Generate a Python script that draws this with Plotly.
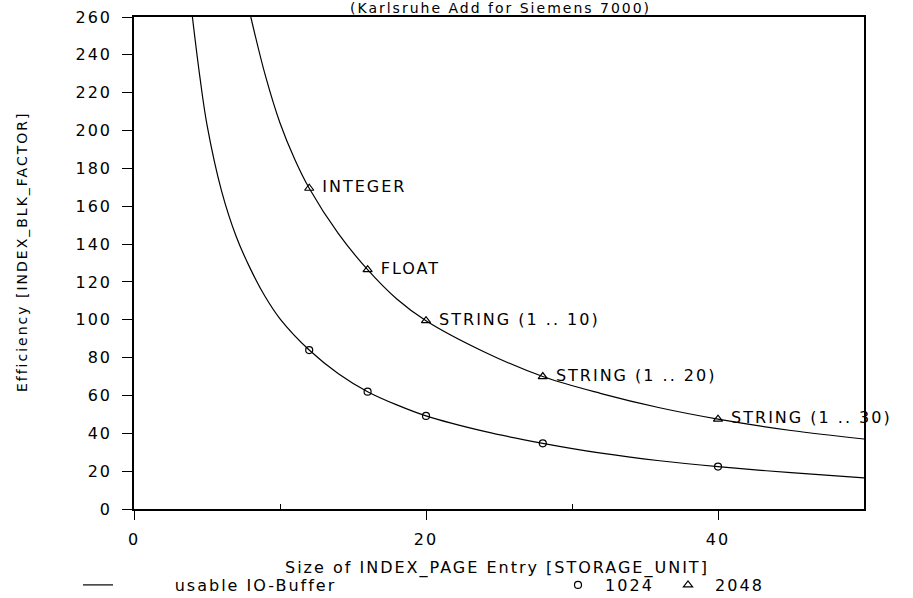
import plotly.graph_objects as go

# ---- data ----
upper_x = [8, 9, 10, 11, 12, 14, 16, 18, 20, 24, 28, 32, 36, 40, 45, 50]
upper_y = [260, 229, 204, 185, 169.5, 145.5, 126.5, 111, 99.5, 83, 70, 61, 53.5, 47.5, 41.5, 37]
lower_x = [4, 4.5, 5, 6, 7, 8, 9, 10, 12, 14, 16, 18, 20, 24, 28, 32, 36, 40, 45, 50]
lower_y = [260, 229, 203, 168, 144, 126.5, 112, 100.5, 84, 71.5, 62, 55, 49.2, 41, 34.7, 29.5, 25.5, 22.4, 19.2, 16.5]

entry_x = [12, 16, 20, 28, 40]
entry_1024 = [84, 62, 49.2, 34.7, 22.4]
entry_2048 = [169.5, 126.5, 99.5, 70, 47.5]
entry_labels = ["INTEGER", "FLOAT", "STRING (1 .. 10)", "STRING (1 .. 20)", "STRING (1 .. 30)"]

x_ticks = [0, 20, 40]
y_ticks = list(range(0, 261, 20))

FONT = "DejaVu Sans"
FS = 16
NB = "\u00a0"

fig = go.Figure()

fig.add_trace(go.Scatter(x=upper_x, y=upper_y, mode="lines", line=dict(color="black", width=1.2, shape="spline"),
                         name=NB * 8 + "usable IO-Buffer", legend="legend", showlegend=True, cliponaxis=True))
fig.add_trace(go.Scatter(x=lower_x, y=lower_y, mode="lines", line=dict(color="black", width=1.2, shape="spline"),
                         showlegend=False, cliponaxis=True))
fig.add_trace(go.Scatter(x=entry_x, y=entry_1024, mode="markers",
                         marker=dict(symbol="circle-open", size=7, color="black", line=dict(width=1.2)),
                         name=NB + "1024", legend="legend2", cliponaxis=False))
fig.add_trace(go.Scatter(x=entry_x, y=entry_2048, mode="markers+text", text=[NB + s for s in entry_labels],
                         textposition="middle right", textfont=dict(family=FONT, size=FS, color="black"),
                         marker=dict(symbol="triangle-up-open", size=8, color="black", line=dict(width=1.2)),
                         name=NB + "2048", legend="legend3", cliponaxis=False))

W, H = 913, 598
L, R, T, B = 134, 49, 17, 89
pw, ph = W - L - R, H - T - B

def px(xpix):
    return (xpix - L) / pw

def py(ypix):
    return (H - B - ypix) / ph

leg_common = dict(orientation="h", xanchor="left", yanchor="middle", bgcolor="rgba(0,0,0,0)",
                  borderwidth=0, font=dict(family=FONT, size=FS, color="black"), y=py(585))

fig.update_layout(
    width=W, height=H,
    margin=dict(l=L, r=R, t=T, b=B, autoexpand=False),
    paper_bgcolor="white", plot_bgcolor="white",
    font=dict(family=FONT, size=FS, color="black"),
    showlegend=True,
    legend=dict(leg_common, x=px(78)),
    legend2=dict(leg_common, x=px(558)),
    legend3=dict(leg_common, x=px(668)),
    xaxis=dict(range=[0, 50], tickvals=x_ticks, ticks="outside", ticklen=9, tickwidth=1.2, tickcolor="black",
               showline=True, linecolor="black", linewidth=1.5, mirror=True, showgrid=False, zeroline=False,
               automargin=False, ticklabelstandoff=6,
               tickfont=dict(family=FONT, size=FS, color="black"),
               minor=dict(tickvals=[10, 30], ticks="inside", ticklen=5, tickcolor="black", tickwidth=1, showgrid=False)),
    yaxis=dict(range=[0, 260], tickvals=y_ticks, ticks="outside", ticklen=10, tickwidth=1.2, tickcolor="black",
               showline=True, linecolor="black", linewidth=1.5, mirror=True, showgrid=False, zeroline=False,
               automargin=False, ticklabelstandoff=7,
               tickfont=dict(family=FONT, size=FS, color="black")),
    annotations=[
        dict(text="(Karlsruhe Add for Siemens 7000)", xref="paper", yref="paper", x=px(500), y=py(8),
             xanchor="center", yanchor="middle", showarrow=False, font=dict(family=FONT, size=14, color="black")),
        dict(text="Size of INDEX_PAGE Entry [STORAGE_UNIT]", xref="paper", yref="paper", x=px(497), y=py(568),
             xanchor="center", yanchor="middle", showarrow=False, font=dict(family=FONT, size=FS, color="black")),
        dict(text="Efficiency [INDEX_BLK_FACTOR]", xref="paper", yref="paper", x=px(22), y=py(252),
             xanchor="center", yanchor="middle", textangle=-90, showarrow=False,
             font=dict(family=FONT, size=14, color="black")),
    ],
)

# page without the default body margin, and wider letter spacing like the original lettering
post = """
document.body.style.margin = '0';
document.body.style.padding = '0';
var gd = document.getElementsByClassName('plotly-graph-div')[0];
function spread(){
  gd.querySelectorAll('svg text').forEach(function(t){ t.style.letterSpacing = '2px'; });
  gd.querySelectorAll('.scrollbox').forEach(function(s){ s.removeAttribute('clip-path'); });
}
spread();
gd.on('plotly_afterplot', spread);
"""

fig.write_html("out.html", post_script=post, config={"displayModeBar": False})
